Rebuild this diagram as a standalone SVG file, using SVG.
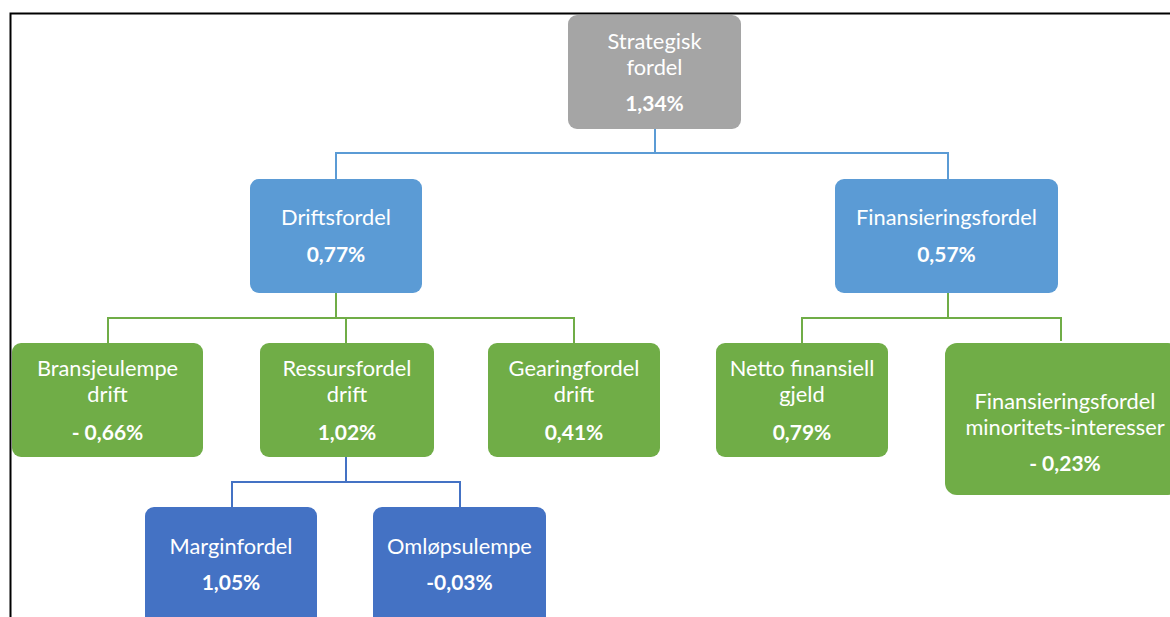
<svg xmlns="http://www.w3.org/2000/svg" width="1170" height="617" viewBox="0 0 1170 617">
<style>
.t{font-family:Lato,"Liberation Sans",sans-serif;font-size:21.8px;fill:#fff;text-anchor:middle}
.b{font-weight:bold;font-size:21px}
.gray{fill:#A5A5A5}
.blue{fill:#5B9BD5}
.green{fill:#70AD47}
.dblue{fill:#4472C4}
.c{fill:none;stroke-width:2}
</style>
<rect x="0" y="0" width="1170" height="617" fill="#fff"/>
<path d="M10.5 617V13.5H1170" fill="none" stroke="#000" stroke-width="2"/>
<g id="connectors">
<path class="c" stroke="#5B9BD5" d="M655 129V153M336 179V153H948V179"/>
<path class="c" stroke="#70AD47" d="M336 293V318M108 343V318H574V343M346 318V343"/>
<path class="c" stroke="#70AD47" d="M948 293V318M802 343V318H1061V341"/>
<path class="c" stroke="#4472C4" d="M346 457V482M232 507V482H460V507"/>
</g>
<g id="n-strategisk"><rect class="gray" x="568" y="15" width="173" height="114" rx="9"/>
<text class="t" x="654.5" y="49">Strategisk</text><text class="t" x="654.5" y="75">fordel</text><text class="t b" x="654.5" y="111">1,34%</text></g>
<g id="n-drift"><rect class="blue" x="250" y="179" width="172" height="114" rx="9"/>
<text class="t" x="336" y="225">Driftsfordel</text><text class="t b" x="336" y="262">0,77%</text></g>
<g id="n-fin"><rect class="blue" x="835" y="179" width="223" height="114" rx="9"/>
<text class="t" x="946.5" y="225">Finansieringsfordel</text><text class="t b" x="946.5" y="262">0,57%</text></g>
<g id="n-bransje"><rect class="green" x="12" y="343" width="191" height="114" rx="9"/>
<text class="t" x="107.5" y="376">Bransjeulempe</text><text class="t" x="107.5" y="402">drift</text><text class="t b" x="107.5" y="440">- 0,66%</text></g>
<g id="n-ressurs"><rect class="green" x="260" y="343" width="174" height="114" rx="9"/>
<text class="t" x="347" y="376">Ressursfordel</text><text class="t" x="347" y="402">drift</text><text class="t b" x="347" y="440">1,02%</text></g>
<g id="n-gearing"><rect class="green" x="488" y="343" width="172" height="114" rx="9"/>
<text class="t" x="574" y="376">Gearingfordel</text><text class="t" x="574" y="402">drift</text><text class="t b" x="574" y="440">0,41%</text></g>
<g id="n-netto"><rect class="green" x="716" y="343" width="172" height="114" rx="9"/>
<text class="t" x="802" y="376">Netto finansiell</text><text class="t" x="802" y="402">gjeld</text><text class="t b" x="802" y="440">0,79%</text></g>
<g id="n-minoritet"><rect class="green" x="945" y="343" width="235" height="152" rx="12"/>
<text class="t" x="1065" y="409">Finansieringsfordel</text><text class="t" x="1065" y="435">minoritets-interesser</text><text class="t b" x="1065" y="471">- 0,23%</text></g>
<g id="n-margin"><rect class="dblue" x="145" y="507" width="172" height="124" rx="9"/>
<text class="t" x="231" y="554">Marginfordel</text><text class="t b" x="231" y="590">1,05%</text></g>
<g id="n-omlop"><rect class="dblue" x="373" y="507" width="173" height="124" rx="9"/>
<text class="t" x="459.5" y="554">Omløpsulempe</text><text class="t b" x="459.5" y="590">-0,03%</text></g>
</svg>
